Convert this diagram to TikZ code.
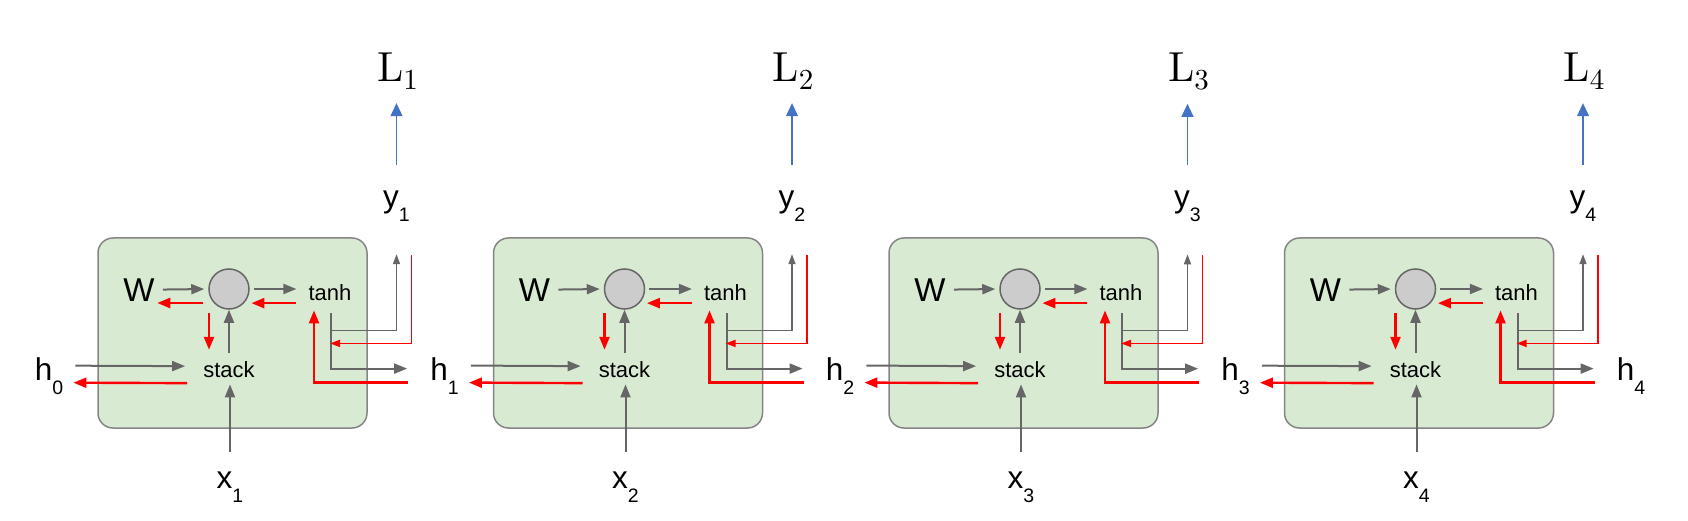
\documentclass[tikz,border=0pt]{standalone}
\usepackage{fontspec}
\newfontfamily\arialfont{Liberation Sans}
\newfontfamily\lossfont{lmroman10-regular.otf}
\usetikzlibrary{arrows.meta,calc}

\definecolor{linegray}{RGB}{102,102,102}
\definecolor{cellgreen}{RGB}{217,234,211}
\definecolor{nodegray}{RGB}{204,204,204}
\definecolor{lossblue}{RGB}{68,114,196}

\newcommand{\subidx}[2]{#1\raisebox{-14pt}{\fontsize{19.5}{19.5}\selectfont #2}}

\begin{document}
\begin{tikzpicture}[
  x=1pt, y=-1pt,
  cell/.style={rectangle, draw=linegray!80, fill=cellgreen, line width=1.5pt, rounded corners=15pt, minimum width=269pt, minimum height=190pt},
  mult/.style={circle, draw=linegray, fill=nodegray, line width=1.5pt, minimum size=40pt, inner sep=0pt},
  lbl/.style={font=\arialfont\fontsize{31.5}{31.5}\selectfont, inner sep=0pt, anchor=base},
  op/.style={font=\arialfont\fontsize{22}{22}\selectfont, inner sep=0pt, anchor=base},
  loss/.style={font=\lossfont\fontsize{42}{42}\selectfont, inner sep=0pt, anchor=base},
  garrow/.style={draw=linegray, line width=2pt, -{Triangle[length=13pt,width=10pt]}},
  gthin/.style={draw=linegray, line width=1.6pt, -{Triangle[length=10pt,width=7pt]}},
  rarrow/.style={draw=red, line width=2.4pt, -{Triangle[length=13pt,width=10pt]}},
  rthin/.style={draw=red, line width=1.7pt, -{Triangle[length=10pt,width=7pt]}},
  barrow/.style={draw=lossblue, line width=1.2pt, -{Triangle[length=13pt,width=12pt]}}
]
  \useasboundingbox (0,0) rectangle (1688,521);

  % Initial hidden state
  \node[lbl] (h0) at (49,380) {\subidx{h}{0}};

  \foreach \i [evaluate=\i as \dx using (\i-1)*395.5, evaluate=\i as \p using int(\i-1)] in {1,...,4} {
    % Cell body
    \node[cell] (box\i) at (\dx+232.5,333) {};
    \node[mult] (c\i) at (\dx+229,289) {};
    \node[lbl, font=\arialfont\fontsize{33}{33}\selectfont] (W\i) at (\dx+139,301) {W};
    \node[op] (t\i) at (\dx+330,300) {tanh};
    \node[op] (s\i) at (\dx+229,377) {stack};

    % Inputs and outputs
    \node[lbl] (x\i) at (\dx+230,488) {\subidx{x}{\i}};
    \node[lbl] (h\i) at (\dx+444.5,380) {\subidx{h}{\i}};
    \node[lbl] (y\i) at (\dx+396.5,208) {\subidx{y}{\i}};
    \node[loss] (L\i) at (\dx+397.5,82) {L\raisebox{-8pt}{\fontsize{29}{29}\selectfont \i}};
    \coordinate (j\i) at ([xshift=1pt,yshift=-30pt]t\i.south);

    % Forward pass
    \draw[garrow, shorten <=8pt, shorten >=4pt] (W\i.east) -- (c\i.west);
    \draw[garrow, shorten <=4pt, shorten >=12pt] (c\i.east) -- (c\i.east -| t\i.west);
    \draw[garrow, shorten <=8pt] (s\i.north) -- (c\i.south);
    \draw[garrow] ([xshift=12pt,yshift=10pt]h\p.east) -- ([xshift=-18pt,yshift=3pt]s\i.west);
    \draw[garrow, shorten <=19pt, shorten >=7pt] (x\i.north) -- (x\i.north |- s\i.south);
    \draw[garrow] ([xshift=1pt,yshift=-13pt]t\i.south) |- ([xshift=-23pt,yshift=7pt]h\i.west);
    \draw[gthin] (j\i) -| ([yshift=-32pt]y\i.south);
    \draw[barrow, shorten <=26pt, shorten >=13pt] (y\i.north) -- (y\i.north |- L\i.south);

    % Backward pass
    \draw[rarrow] ([xshift=-12pt,yshift=-11pt]t\i.west) -- ++(-45,0);
    \ifnum\i=1
      \draw[rarrow] ([xshift=-5pt,yshift=-14pt]c\i.west) -- ++(-46,0);
    \fi
    \draw[rarrow] ([xshift=-20pt,yshift=-3pt]c\i.south) -- ++(0,37);
    \draw[rarrow] ([xshift=-16pt,yshift=-14pt]s\i.west) -- ([xshift=10pt,yshift=-7pt]h\p.east);
    \draw[rthin] ([xshift=15pt,yshift=-33pt]y\i.south) |- ([yshift=-43pt]t\i.south);
    \draw[rarrow] ([xshift=-22pt,yshift=-7pt]h\i.west) -| ([xshift=-16pt,yshift=-10pt]t\i.south);
  }

\end{tikzpicture}
\end{document}
